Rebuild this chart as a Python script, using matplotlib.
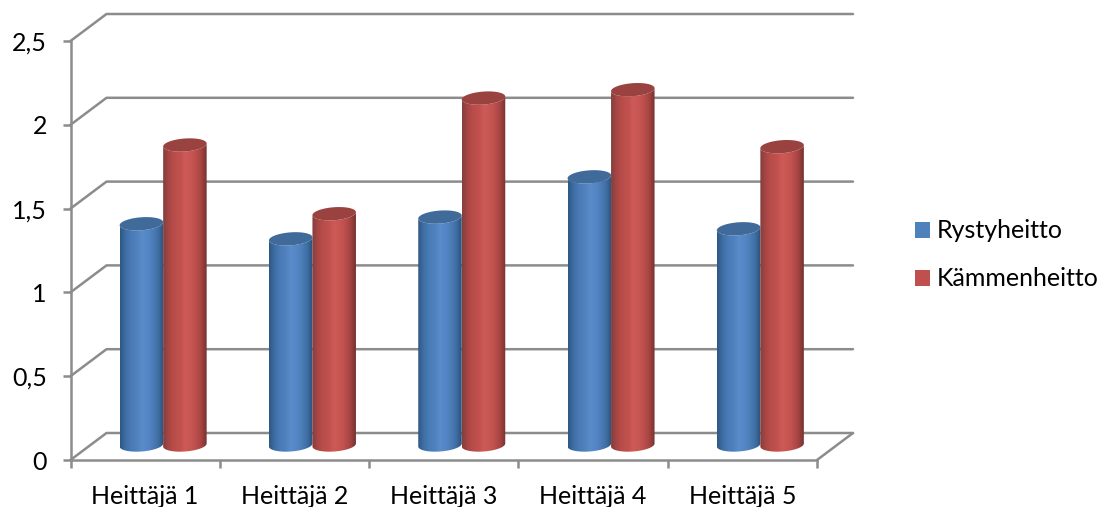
import numpy as np
import matplotlib
matplotlib.use("Agg")
import matplotlib.pyplot as plt
from matplotlib.colors import LinearSegmentedColormap
from matplotlib.patches import Polygon, Patch

categories = ["Heittäjä 1", "Heittäjä 2", "Heittäjä 3", "Heittäjä 4", "Heittäjä 5"]
rystyheitto = [1.32, 1.23, 1.36, 1.60, 1.29]
kammenheitto = [1.79, 1.38, 2.07, 2.12, 1.78]
y_ticks = [0, 0.5, 1, 1.5, 2, 2.5]
y_labels = ["0", "0,5", "1", "1,5", "2", "2,5"]

W, H = 1102, 507
FONT = 18
plt.rcParams["font.family"] = ["Lato", "DejaVu Sans"]

fig = plt.figure(figsize=(W / 100, H / 100), dpi=100)
left, right, bottom, top = 70.5, 817, 460, 41
ax = fig.add_axes([left / W, 1 - bottom / H, (right - left) / W, (bottom - top) / H])
ax.set_xlim(0, 5)
ax.set_ylim(0, 2.5)

# Conversions between pixel lengths and data units on this axes
px_x = 5 / (right - left)
px_y = 2.5 / (bottom - top)

GRID = "#8c8c8c"
LW = 1.8
depth_x, depth_y = 36 * px_x, 27 * px_y

for s in ("top", "right"):
    ax.spines[s].set_visible(False)
for s in ("left", "bottom"):
    ax.spines[s].set_color(GRID)
    ax.spines[s].set_linewidth(LW)

ax.set_yticks(y_ticks, y_labels)
ax.set_xticks(range(6))
ax.set_xticklabels([])
ax.tick_params(axis="both", color=GRID, width=LW, length=6, labelsize=FONT, labelcolor="black")
ax.tick_params(axis="y", pad=11)
for i, name in enumerate(categories):
    ax.annotate(name, (i + 0.5, 0), xytext=(0, -26), xycoords="data", textcoords="offset points",
                ha="center", va="center", fontsize=FONT, color="black", annotation_clip=False)

# Side wall and back wall gridlines of the 3D box
for v in y_ticks:
    ax.plot([0, depth_x, 5 + depth_x], [v, v + depth_y, v + depth_y],
            color=GRID, lw=LW, clip_on=False, zorder=1, solid_capstyle="round")
ax.plot([5, 5 + depth_x], [0, depth_y], color=GRID, lw=LW, clip_on=False, zorder=1,
        solid_capstyle="round")

BLUE_STOPS = ["#2f5782", "#3f6ea6", "#4a7bb6", "#4f81bd", "#5a8ccb", "#5587c6", "#4c7db8", "#3f6ea3", "#2c4f78"]
RED_STOPS = ["#80403e", "#a84644", "#b94d4a", "#c0504d", "#cd5a57", "#c85754", "#bd4f4c", "#a54442", "#753230"]
blue_cap = "#3f6a9a"
red_cap = "#9a4240"

cyl_w = 43.5 * px_x
semi_h = 6.5 * px_y
tilt = -1.5 * px_y
base_y = 15 * px_y
t = np.linspace(0, np.pi, 60)


def arc(cx, cy, upper):
    """Points of a half ellipse from the left rim to the right rim, slightly tilted."""
    u = -np.cos(t)
    sign = 1 if upper else -1
    return cx + u * cyl_w / 2, cy + sign * semi_h * np.sin(t) - tilt * u


def cylinder(cx, value, stops, cap, z):
    top_y = base_y + value
    cmap = LinearSegmentedColormap.from_list("shade", stops)
    lx, ly = arc(cx, base_y, upper=False)
    ux, uy = arc(cx, top_y, upper=False)
    body = np.column_stack([np.r_[ux, lx[::-1]], np.r_[uy, ly[::-1]]])
    outline = Polygon(body, closed=True, facecolor="none", edgecolor="none",
                      transform=ax.transData, clip_on=False)
    ax.add_patch(outline)
    img = ax.imshow(np.linspace(0, 1, 128)[None, :], cmap=cmap, aspect="auto",
                    extent=[cx - cyl_w / 2, cx + cyl_w / 2, base_y - 2 * semi_h, top_y + 2 * semi_h],
                    zorder=z, clip_on=True)
    img.set_clip_path(outline)
    tx, ty = arc(cx, top_y, upper=True)
    cap_pts = np.column_stack([np.r_[tx, ux[::-1]], np.r_[ty, uy[::-1]]])
    ax.add_patch(Polygon(cap_pts, closed=True, facecolor=cap, edgecolor="none",
                         zorder=z + 0.1, clip_on=False))


for i in range(len(categories)):
    center = i + 0.5 + depth_x / 2
    cylinder(center - cyl_w / 2, rystyheitto[i], BLUE_STOPS, blue_cap, 3 + i)
    cylinder(center + cyl_w / 2, kammenheitto[i], RED_STOPS, red_cap, 3.5 + i)

ax.set_xlim(0, 5)
ax.set_ylim(0, 2.5)

handles = [Patch(facecolor="#4f81bd", label="Rystyheitto"),
           Patch(facecolor="#c0504d", label="Kämmenheitto")]
fig.legend(handles=handles, loc="center left", bbox_to_anchor=(915 / W, 1 - 255 / H), frameon=False,
           fontsize=FONT, handlelength=0.6, handleheight=0.6, handletextpad=0.28,
           labelspacing=1.0, borderpad=0, borderaxespad=0)

fig.savefig("out.png", dpi=100, facecolor="white")
